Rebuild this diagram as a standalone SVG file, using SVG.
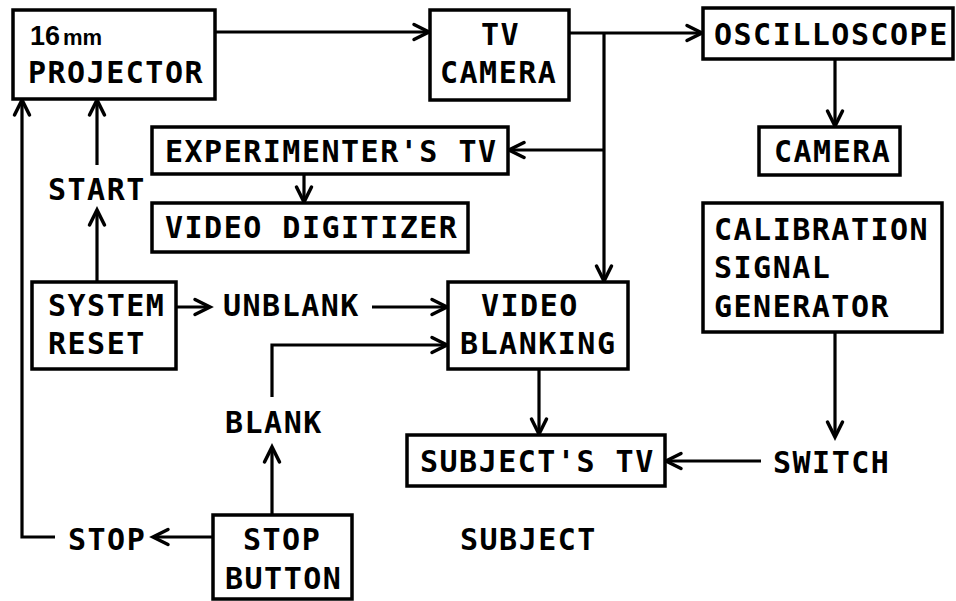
<svg xmlns="http://www.w3.org/2000/svg" width="956" height="601" viewBox="0 0 956 601">
<defs>
<marker id="ah" markerUnits="userSpaceOnUse" markerWidth="30" markerHeight="30" viewBox="-20 -15 30 30" refX="0" refY="0" orient="auto" overflow="visible">
<path d="M-15,-7.5 L0,0 L-15,7.5" fill="none" stroke="#000" stroke-width="3.5" stroke-linejoin="miter" stroke-linecap="round"/>
</marker>
<style>
rect{fill:#fff;stroke:#000;stroke-width:3.5}
text{font-family:"DejaVu Sans Mono","Liberation Mono",monospace;font-weight:bold;font-size:30px;letter-spacing:1.5px;fill:#000}
.c path{fill:none;stroke:#000;stroke-width:3.2;marker-end:url(#ah)}
</style>
</defs>
<rect x="0" y="0" width="956" height="601" style="fill:#fff;stroke:none"/>
<g class="c" id="connectors">
<path d="M215,32 H429"/>
<path d="M569,33 H702"/>
<path d="M604,33 V281"/>
<path d="M604,150 H509"/>
<path d="M304,174 V202"/>
<path d="M835,59 V126"/>
<path d="M835,332 V437"/>
<path d="M761,461 H666"/>
<path d="M539,369 V434"/>
<path d="M97,282 V210"/>
<path d="M97,165 V100"/>
<path d="M55,537 H22 V100"/>
<path d="M213,537 H153"/>
<path d="M272,515 V447"/>
<path d="M272,397 V345 H447"/>
<path d="M176,307 H210"/>
<path d="M372,307 H447"/>
</g>
<g id="projector">
<rect x="13" y="10" width="202" height="89"/>
<text x="30" y="45" style="font-family:'Liberation Sans',Arial,sans-serif;font-size:27px;letter-spacing:0">16<tspan dx="3" style="font-size:22px">mm</tspan></text>
<text x="28" y="83">PROJECTOR</text>
</g>
<g id="tv_camera">
<rect x="430" y="10" width="139" height="90"/>
<text x="481" y="45">TV</text>
<text x="440" y="83">CAMERA</text>
</g>
<g id="oscilloscope">
<rect x="703" y="8" width="250" height="51"/>
<text x="714" y="45">OSCILLOSCOPE</text>
</g>
<g id="camera">
<rect x="759" y="127" width="141" height="48"/>
<text x="774" y="162">CAMERA</text>
</g>
<g id="calibration">
<rect x="703" y="203" width="239" height="129"/>
<text x="714" y="240">CALIBRATION</text>
<text x="714" y="278">SIGNAL</text>
<text x="714" y="317">GENERATOR</text>
</g>
<g id="experimenters_tv">
<rect x="152" y="127" width="356" height="47"/>
<text x="165" y="162">EXPERIMENTER'S TV</text>
</g>
<g id="video_digitizer">
<rect x="152" y="203" width="316" height="49"/>
<text x="165" y="238">VIDEO DIGITIZER</text>
</g>
<g id="system_reset">
<rect x="32" y="282" width="144" height="87"/>
<text x="48" y="316">SYSTEM</text>
<text x="48" y="354">RESET</text>
</g>
<g id="video_blanking">
<rect x="448" y="282" width="180" height="87"/>
<text x="481" y="316">VIDEO</text>
<text x="460" y="354">BLANKING</text>
</g>
<g id="subjects_tv">
<rect x="407" y="435" width="258" height="51"/>
<text x="420" y="472">SUBJECT'S TV</text>
</g>
<g id="stop_button">
<rect x="213" y="515" width="139" height="84"/>
<text x="243" y="550">STOP</text>
<text x="225" y="589">BUTTON</text>
</g>
<g id="labels">
<text x="48" y="200">START</text>
<text x="223" y="316">UNBLANK</text>
<text x="225" y="433">BLANK</text>
<text x="773" y="473">SWITCH</text>
<text x="68" y="550">STOP</text>
<text x="460" y="550">SUBJECT</text>
</g>
</svg>
